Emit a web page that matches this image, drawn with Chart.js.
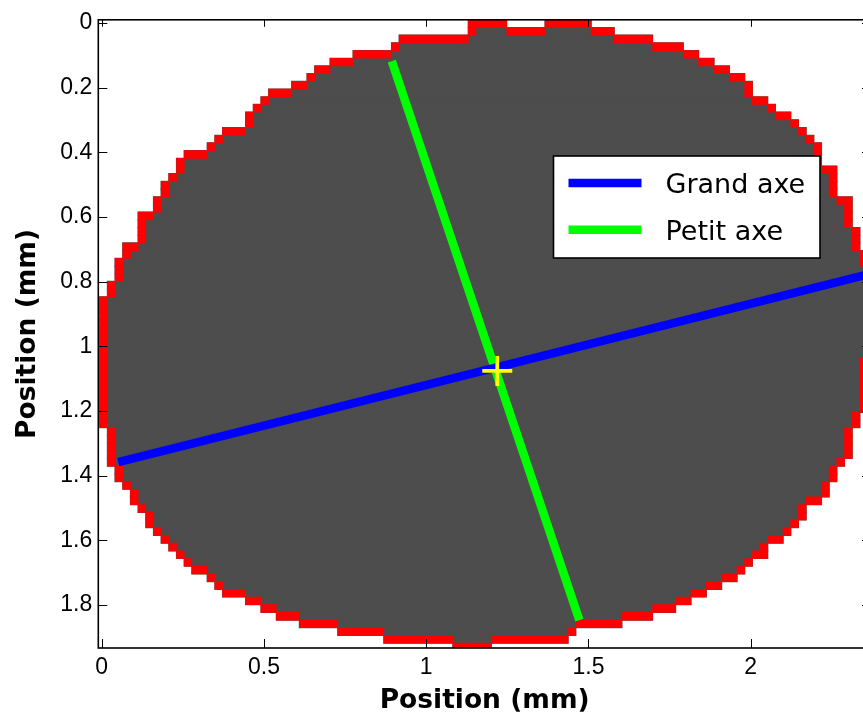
<!DOCTYPE html>
<html>
<head>
<meta charset="utf-8">
<title>Grand axe / Petit axe</title>
<script src="https://cdn.jsdelivr.net/npm/chart.js@4.4.1/dist/chart.umd.min.js"></script>
<style>
  html, body { margin: 0; padding: 0; background: #fff; overflow: hidden; }
  #wrap { width: 871px; height: 720px; }
</style>
</head>
<body>
<div id="wrap"><canvas id="ellipseChart" width="871" height="720"></canvas></div>
<script>
// thresholded image, one entry per pixel row (row 0 at the top):
// first and last filled column
const leftCol = [
  48, 48, 39, 38, 33, 30, 28, 27, 25, 22,
  21, 20, 19, 19, 16, 15, 14, 11, 10, 10,
  9, 8, 8, 7, 7, 5, 5, 5, 5, 3,
  3, 2, 2, 2, 1, 1, 0, 0, 0, 0,
  0, 0, 0, 0, 0, 0, 0, 0, 0, 0,
  0, 0, 0, 1, 1, 1, 1, 1, 2, 2,
  3, 4, 4, 5, 6, 6, 7, 8, 9, 10,
  11, 12, 14, 15, 16, 19, 21, 23, 26, 31,
  37, 46
];
const rightCol = [
  63, 66, 71, 75, 77, 79, 81, 83, 84, 84,
  86, 87, 89, 90, 91, 92, 93, 93, 93, 95,
  95, 95, 95, 97, 97, 97, 97, 98, 98, 98,
  99, 99, 100, 100, 100, 100, 100, 100, 100, 100,
  100, 100, 100, 100, 99, 99, 99, 99, 99, 99,
  99, 98, 98, 97, 97, 97, 97, 96, 95, 95,
  94, 94, 93, 91, 91, 90, 89, 88, 86, 86,
  84, 83, 82, 80, 78, 76, 74, 71, 67, 61,
  60, 50
];
// empty runs inside a row: [row, first col, last col]
const holes = [[0, 53, 57]];

const axisLabels = ['Grand axe', 'Petit axe'];
const grandAxeX = [0.051, 2.387];
const grandAxeY = [1.358, 0.771];
const petitAxeX = [0.894, 1.472];
const petitAxeY = [0.118, 1.847];
const centreX = [1.219];
const centreY = [1.076];

const xTicks = [0, 0.5, 1, 1.5, 2];
const xTickLabels = ['0', '0.5', '1', '1.5', '2'];
const yTicks = [0, 0.2, 0.4, 0.6, 0.8, 1, 1.2, 1.4, 1.6, 1.8];
const yTickLabels = ['0', '0.2', '0.4', '0.6', '0.8', '1', '1.2', '1.4', '1.6', '1.8'];

// image grid in mm
const PIX_W = 0.02366;
const PIX_H = 0.0238;
const ORIGIN_X = -0.0060;
const ORIGIN_Y = -0.0099;

const X_MIN = -0.0105, X_MAX = 2.3707;
const Y_MIN = -0.0099, Y_MAX = 1.9329;

function rowSpans(r) {
  if (r < 0 || r >= leftCol.length) return [];
  let spans = [[leftCol[r], rightCol[r]]];
  holes.filter(h => h[0] === r).forEach(h => {
    spans = spans.flatMap(([a, b]) => {
      if (h[2] < a || h[1] > b) return [[a, b]];
      const out = [];
      if (h[1] > a) out.push([a, h[1] - 1]);
      if (h[2] < b) out.push([h[2] + 1, b]);
      return out;
    });
  });
  return spans;
}

function filled(r, c) {
  return rowSpans(r).some(([a, b]) => c >= a && c <= b);
}

function cellBar(r, a, b) {
  return { x: [ORIGIN_X + a * PIX_W, ORIGIN_X + (b + 1) * PIX_W], y: ORIGIN_Y + (r + 0.5) * PIX_H };
}

const bodyBars = [];
const edgeBars = [];
leftCol.forEach((_, r) => {
  rowSpans(r).forEach(([a, b]) => {
    bodyBars.push(cellBar(r, a, b));
    let start = null;
    for (let c = a; c <= b + 1; c++) {
      const edge = c <= b && (c === a || c === b || !filled(r - 1, c) || !filled(r + 1, c));
      if (edge && start === null) start = c;
      if (!edge && start !== null) {
        edgeBars.push(cellBar(r, start, c - 1));
        start = null;
      }
    }
  });
});

const axesBox = {
  id: 'axesBox',
  afterDatasetsDraw(chart) {
    const { ctx, chartArea: a, scales: { x, y } } = chart;
    ctx.save();
    ctx.strokeStyle = '#000';
    ctx.lineWidth = 1;
    ctx.beginPath();
    xTicks.forEach(v => {
      const px = Math.round(x.getPixelForValue(v)) + 0.5;
      ctx.moveTo(px, a.bottom); ctx.lineTo(px, a.bottom - 9);
      ctx.moveTo(px, a.top); ctx.lineTo(px, a.top + 7);
    });
    yTicks.forEach(v => {
      const py = Math.round(y.getPixelForValue(v)) + 0.5;
      ctx.moveTo(a.left, py); ctx.lineTo(a.left + 9, py);
      ctx.moveTo(a.right, py); ctx.lineTo(a.right - 9, py);
    });
    ctx.stroke();
    ctx.lineWidth = 1.6;
    ctx.strokeRect(a.left, a.top, a.right - a.left, a.bottom - a.top);
    ctx.restore();
  }
};

const boxLegend = {
  id: 'boxLegend',
  afterDraw(chart) {
    const ctx = chart.ctx;
    const items = chart.data.datasets.filter(d => d.type === 'line');
    const left = 553.5, top = 156, w = 266.5, h = 102;
    ctx.save();
    ctx.fillStyle = '#fff';
    ctx.fillRect(left, top, w, h);
    ctx.strokeStyle = '#000';
    ctx.lineWidth = 1.6;
    ctx.strokeRect(left, top, w, h);
    ctx.font = '27px "DejaVu Sans"';
    ctx.textBaseline = 'alphabetic';
    items.forEach((d, i) => {
      const cy = top + 27 + i * 46.7;
      ctx.strokeStyle = d.borderColor;
      ctx.lineWidth = d.borderWidth;
      ctx.beginPath();
      ctx.moveTo(left + 15, cy);
      ctx.lineTo(left + 88, cy);
      ctx.stroke();
      ctx.fillStyle = '#000';
      ctx.fillText(d.label, left + 112, cy + 10);
    });
    ctx.restore();
  }
};

const tickFont = { family: '"Liberation Sans", Arial, sans-serif', size: 23 };
const titleFont = { family: '"DejaVu Sans", sans-serif', size: 26.5, weight: 'bold' };

const ctx = document.getElementById('ellipseChart').getContext('2d');
new Chart(ctx, {
  type: 'scatter',
  data: {
    datasets: [
      {
        type: 'scatter',
        label: 'centre',
        data: centreX.map((v, i) => ({ x: v, y: centreY[i] })),
        pointStyle: 'cross',
        pointRadius: 15,
        pointBorderWidth: 3.7,
        borderColor: '#ffff00',
        backgroundColor: '#ffff00',
        order: 0
      },
      {
        type: 'line',
        label: axisLabels[0],
        data: grandAxeX.map((v, i) => ({ x: v, y: grandAxeY[i] })),
        borderColor: '#0000ff',
        borderWidth: 8.5,
        pointRadius: 0,
        fill: false,
        order: 1
      },
      {
        type: 'line',
        label: axisLabels[1],
        data: petitAxeX.map((v, i) => ({ x: v, y: petitAxeY[i] })),
        borderColor: '#00ff00',
        borderWidth: 8.5,
        pointRadius: 0,
        fill: false,
        order: 1
      },
      {
        type: 'bar',
        label: 'contour',
        indexAxis: 'y',
        grouped: false,
        data: edgeBars,
        backgroundColor: '#ff0000',
        borderWidth: 0,
        categoryPercentage: 1,
        barPercentage: 1,
        order: 2
      },
      {
        type: 'bar',
        label: 'ellipse',
        indexAxis: 'y',
        grouped: false,
        data: bodyBars,
        backgroundColor: '#4d4d4d',
        borderWidth: 0,
        inflateAmount: 0.6,
        categoryPercentage: 1,
        barPercentage: 1,
        order: 3
      }
    ]
  },
  options: {
    responsive: false,
    animation: false,
    events: [],
    layout: { autoPadding: false, padding: { top: 19.5, right: 0, bottom: 0, left: 0 } },
    plugins: {
      legend: { display: false },
      tooltip: { enabled: false }
    },
    scales: {
      x: {
        type: 'linear',
        position: 'bottom',
        min: X_MIN,
        max: X_MAX,
        offset: false,
        grid: { display: false, drawTicks: false, offset: false },
        border: { display: false },
        afterBuildTicks: s => { s.ticks = xTicks.map(v => ({ value: v })); },
        afterFit: s => { s.height = 72; },
        ticks: {
          callback: (v, i) => xTickLabels[i],
          autoSkip: false,
          maxRotation: 0,
          padding: 6,
          color: '#000',
          font: tickFont
        },
        title: {
          display: true,
          text: 'Position (mm)',
          color: '#000',
          font: titleFont,
          padding: { top: 0, bottom: 3 }
        }
      },
      y: {
        type: 'linear',
        position: 'left',
        reverse: true,
        min: Y_MIN,
        max: Y_MAX,
        offset: false,
        grid: { display: false, drawTicks: false, offset: false },
        border: { display: false },
        afterBuildTicks: s => { s.ticks = yTicks.map(v => ({ value: v })); },
        afterFit: s => { s.width = 98.3; },
        ticks: {
          callback: (v, i) => yTickLabels[i],
          autoSkip: false,
          padding: 6,
          color: '#000',
          font: tickFont
        },
        title: {
          display: true,
          text: 'Position (mm)',
          color: '#000',
          font: titleFont,
          padding: { top: 12, bottom: 0 }
        }
      }
    }
  },
  plugins: [axesBox, boxLegend]
});
</script>
</body>
</html>
